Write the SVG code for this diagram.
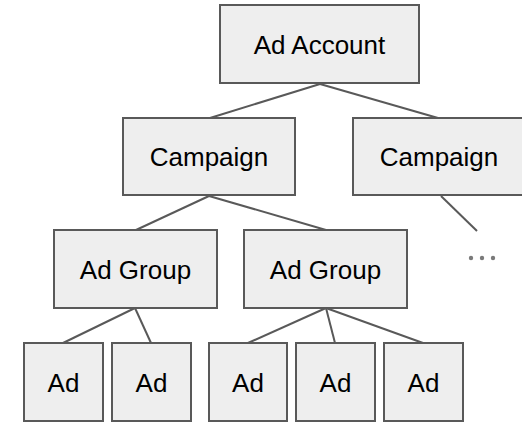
<svg xmlns="http://www.w3.org/2000/svg" width="522" height="423" viewBox="0 0 522 423">
<style>
.box{fill:#eeeeee;stroke:#595959;stroke-width:2}
.lbl{font-family:"Liberation Sans",Arial,sans-serif;font-size:26px;fill:#000;text-anchor:middle}
.edge{stroke:#595959;stroke-width:2;fill:none}
.dot{fill:#7a7a7a}
</style>
<rect width="522" height="423" fill="#ffffff"/>
<g id="connectors">
<line class="edge" x1="320" y1="84" x2="210" y2="118"/>
<line class="edge" x1="320" y1="84" x2="438" y2="118"/>
<line class="edge" x1="209" y1="196" x2="136" y2="230"/>
<line class="edge" x1="209" y1="196" x2="326" y2="230"/>
<line class="edge" x1="441" y1="196" x2="477" y2="231"/>
<line class="edge" x1="135" y1="308" x2="63" y2="343"/>
<line class="edge" x1="135" y1="308" x2="151" y2="343"/>
<line class="edge" x1="326" y1="308" x2="248" y2="343"/>
<line class="edge" x1="326" y1="308" x2="335" y2="343"/>
<line class="edge" x1="326" y1="308" x2="423" y2="343"/>
</g>
<g id="ad-account"><rect class="box" x="220" y="5" width="199" height="78"/><text class="lbl" x="319.5" y="54">Ad Account</text></g>
<g id="campaign-1"><rect class="box" x="123" y="118" width="172" height="77"/><text class="lbl" x="209" y="166">Campaign</text></g>
<g id="campaign-2"><rect class="box" x="353" y="118" width="172" height="77"/><text class="lbl" x="439" y="166">Campaign</text></g>
<g id="more"><circle class="dot" cx="471" cy="258" r="2.2"/><circle class="dot" cx="482" cy="258" r="2.2"/><circle class="dot" cx="493" cy="258" r="2.2"/></g>
<g id="ad-group-1"><rect class="box" x="54" y="230" width="163" height="78"/><text class="lbl" x="135.5" y="279">Ad Group</text></g>
<g id="ad-group-2"><rect class="box" x="244" y="230" width="163" height="78"/><text class="lbl" x="325.5" y="279">Ad Group</text></g>
<g id="ad-1"><rect class="box" x="24" y="343" width="79" height="78"/><text class="lbl" x="63.5" y="392">Ad</text></g>
<g id="ad-2"><rect class="box" x="112" y="343" width="79" height="78"/><text class="lbl" x="151.5" y="392">Ad</text></g>
<g id="ad-3"><rect class="box" x="209" y="343" width="78" height="78"/><text class="lbl" x="248" y="392">Ad</text></g>
<g id="ad-4"><rect class="box" x="296" y="343" width="79" height="78"/><text class="lbl" x="335.5" y="392">Ad</text></g>
<g id="ad-5"><rect class="box" x="384" y="343" width="79" height="78"/><text class="lbl" x="423.5" y="392">Ad</text></g>
</svg>
